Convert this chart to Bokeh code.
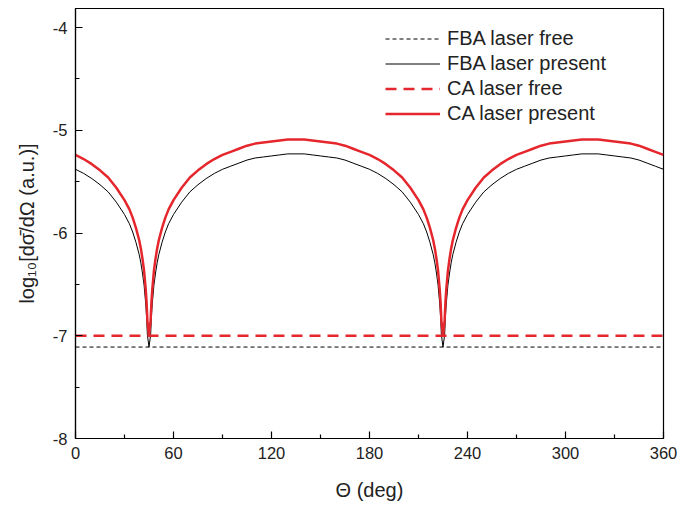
from bokeh.plotting import figure
from bokeh.models import Range1d, Legend, LegendItem, FixedTicker, PrintfTickFormatter
from bokeh.embed import file_html
from bokeh.resources import INLINE

# Scattering angle (deg)
theta = [0, 5, 10, 15, 20, 25, 30, 33, 35, 37, 39, 40, 41, 42, 43, 43.5, 44, 45,
         46, 46.5, 47, 48, 49, 50, 51, 53, 55, 57, 60, 65, 70, 75, 80, 85, 90, 95, 100, 105, 110, 115, 120, 125, 130, 135,
         140, 145, 150, 155, 160, 165, 170, 175, 180, 185, 190, 195, 200, 205, 210, 213, 215, 217, 219, 220, 221, 222, 223, 223.5, 224, 225,
         226, 226.5, 227, 228, 229, 230, 231, 233, 235, 237, 240, 245, 250, 255, 260, 265, 270, 275, 280, 285, 290, 295, 300, 305, 310, 315,
         320, 325, 330, 335, 340, 345, 350, 355, 360]

ca_present = [-5.24, -5.28, -5.33, -5.39, -5.46, -5.56, -5.68, -5.77, -5.85, -5.95, -6.07, -6.15, -6.25, -6.37, -6.55, -6.67, -6.85, -7.00,
              -6.85, -6.67, -6.55, -6.37, -6.25, -6.15, -6.07, -5.95, -5.85, -5.77, -5.68, -5.56, -5.46, -5.39, -5.33, -5.28, -5.24, -5.21, -5.18, -5.15, -5.13, -5.12, -5.11, -5.10, -5.09, -5.09,
              -5.09, -5.10, -5.11, -5.12, -5.13, -5.15, -5.18, -5.21, -5.24, -5.28, -5.33, -5.39, -5.46, -5.56, -5.68, -5.77, -5.85, -5.95, -6.07, -6.15, -6.25, -6.37, -6.55, -6.67, -6.85, -7.00,
              -6.85, -6.67, -6.55, -6.37, -6.25, -6.15, -6.07, -5.95, -5.85, -5.77, -5.68, -5.56, -5.46, -5.39, -5.33, -5.28, -5.24, -5.21, -5.18, -5.15, -5.13, -5.12, -5.11, -5.10, -5.09, -5.09,
              -5.09, -5.10, -5.11, -5.12, -5.13, -5.15, -5.18, -5.21, -5.24]

fba_present = [-5.38, -5.42, -5.47, -5.53, -5.60, -5.70, -5.82, -5.91, -5.99, -6.09, -6.21, -6.29, -6.39, -6.51, -6.69, -6.81, -6.99, -7.11,
               -6.99, -6.81, -6.69, -6.51, -6.39, -6.29, -6.21, -6.09, -5.99, -5.91, -5.82, -5.70, -5.60, -5.53, -5.47, -5.42, -5.38, -5.35, -5.32, -5.29, -5.27, -5.26, -5.25, -5.24, -5.23, -5.23,
               -5.23, -5.24, -5.25, -5.26, -5.27, -5.29, -5.32, -5.35, -5.38, -5.42, -5.47, -5.53, -5.60, -5.70, -5.82, -5.91, -5.99, -6.09, -6.21, -6.29, -6.39, -6.51, -6.69, -6.81, -6.99, -7.11,
               -6.99, -6.81, -6.69, -6.51, -6.39, -6.29, -6.21, -6.09, -5.99, -5.91, -5.82, -5.70, -5.60, -5.53, -5.47, -5.42, -5.38, -5.35, -5.32, -5.29, -5.27, -5.26, -5.25, -5.24, -5.23, -5.23,
               -5.23, -5.24, -5.25, -5.26, -5.27, -5.29, -5.32, -5.35, -5.38]

free_theta = [0, 360]
fba_free = [-7.11, -7.11]
ca_free = [-7.00, -7.00]

x_ticks = [0, 60, 120, 180, 240, 300, 360]
x_minor = [30, 90, 150, 210, 270, 330]
y_ticks = [-8, -7, -6, -5, -4]
y_minor = [-7.5, -6.5, -5.5, -4.5]

RED = "#e5262c"
FONT = "Liberation Sans"

p = figure(width=679, height=507, output_backend="svg", toolbar_location=None,
           x_range=Range1d(0, 360), y_range=Range1d(-8, -3.815),
           min_border_left=75, min_border_right=16, min_border_top=8, min_border_bottom=69)

r1 = p.line(free_theta, fba_free, line_color="black", line_width=1, line_dash="4 3")
r2 = p.line(theta, fba_present, line_color="black", line_width=1, line_join="round")
r3 = p.line(free_theta, ca_free, line_color=RED, line_width=2.5, line_dash="11 7")
r4 = p.line(theta, ca_present, line_color=RED, line_width=2.5, line_join="round")

p.grid.visible = False
p.background_fill_color = "white"
p.border_fill_color = "white"
p.outline_line_color = "black"
p.outline_line_width = 1.2

p.xaxis.ticker = FixedTicker(ticks=x_ticks, minor_ticks=x_minor)
p.yaxis.ticker = FixedTicker(ticks=y_ticks, minor_ticks=y_minor)
p.yaxis.formatter = PrintfTickFormatter(format="%d")

for ax in (p.xaxis[0], p.yaxis[0]):
    ax.major_tick_in = 7
    ax.major_tick_out = 0
    ax.minor_tick_in = 4
    ax.minor_tick_out = 0
    ax.axis_line_width = 1.2
    ax.major_tick_line_width = 1.2
    ax.minor_tick_line_width = 1.2
    ax.major_label_text_font = FONT
    ax.major_label_text_font_size = "16.5px"
    ax.major_label_text_color = "#222222"
    ax.axis_label_text_font = FONT
    ax.axis_label_text_font_size = "20px"
    ax.axis_label_text_font_style = "normal"
    ax.axis_label_text_color = "#222222"

p.xaxis.axis_label = "Θ (deg)"
p.xaxis.major_label_standoff = 8
p.xaxis.axis_label_standoff = 17
p.yaxis.axis_label = "log₁₀[dσ̄/dΩ (a.u.)]"
p.yaxis.major_label_standoff = 8
p.yaxis.axis_label_standoff = 12

legend = Legend(items=[
    LegendItem(label="FBA laser free", renderers=[r1]),
    LegendItem(label="FBA laser present", renderers=[r2]),
    LegendItem(label="CA laser free", renderers=[r3]),
    LegendItem(label="CA laser present", renderers=[r4]),
], location=(310, 312))
legend.border_line_color = None
legend.background_fill_alpha = 0
legend.padding = 0
legend.margin = 0
legend.spacing = 0
legend.glyph_width = 55
legend.glyph_height = 25
legend.label_height = 25
legend.label_standoff = 7
legend.label_text_font = FONT
legend.label_text_font_size = "20px"
legend.label_text_color = "#222222"
p.add_layout(legend, "center")

open("out.html", "w").write(file_html(p, INLINE))
